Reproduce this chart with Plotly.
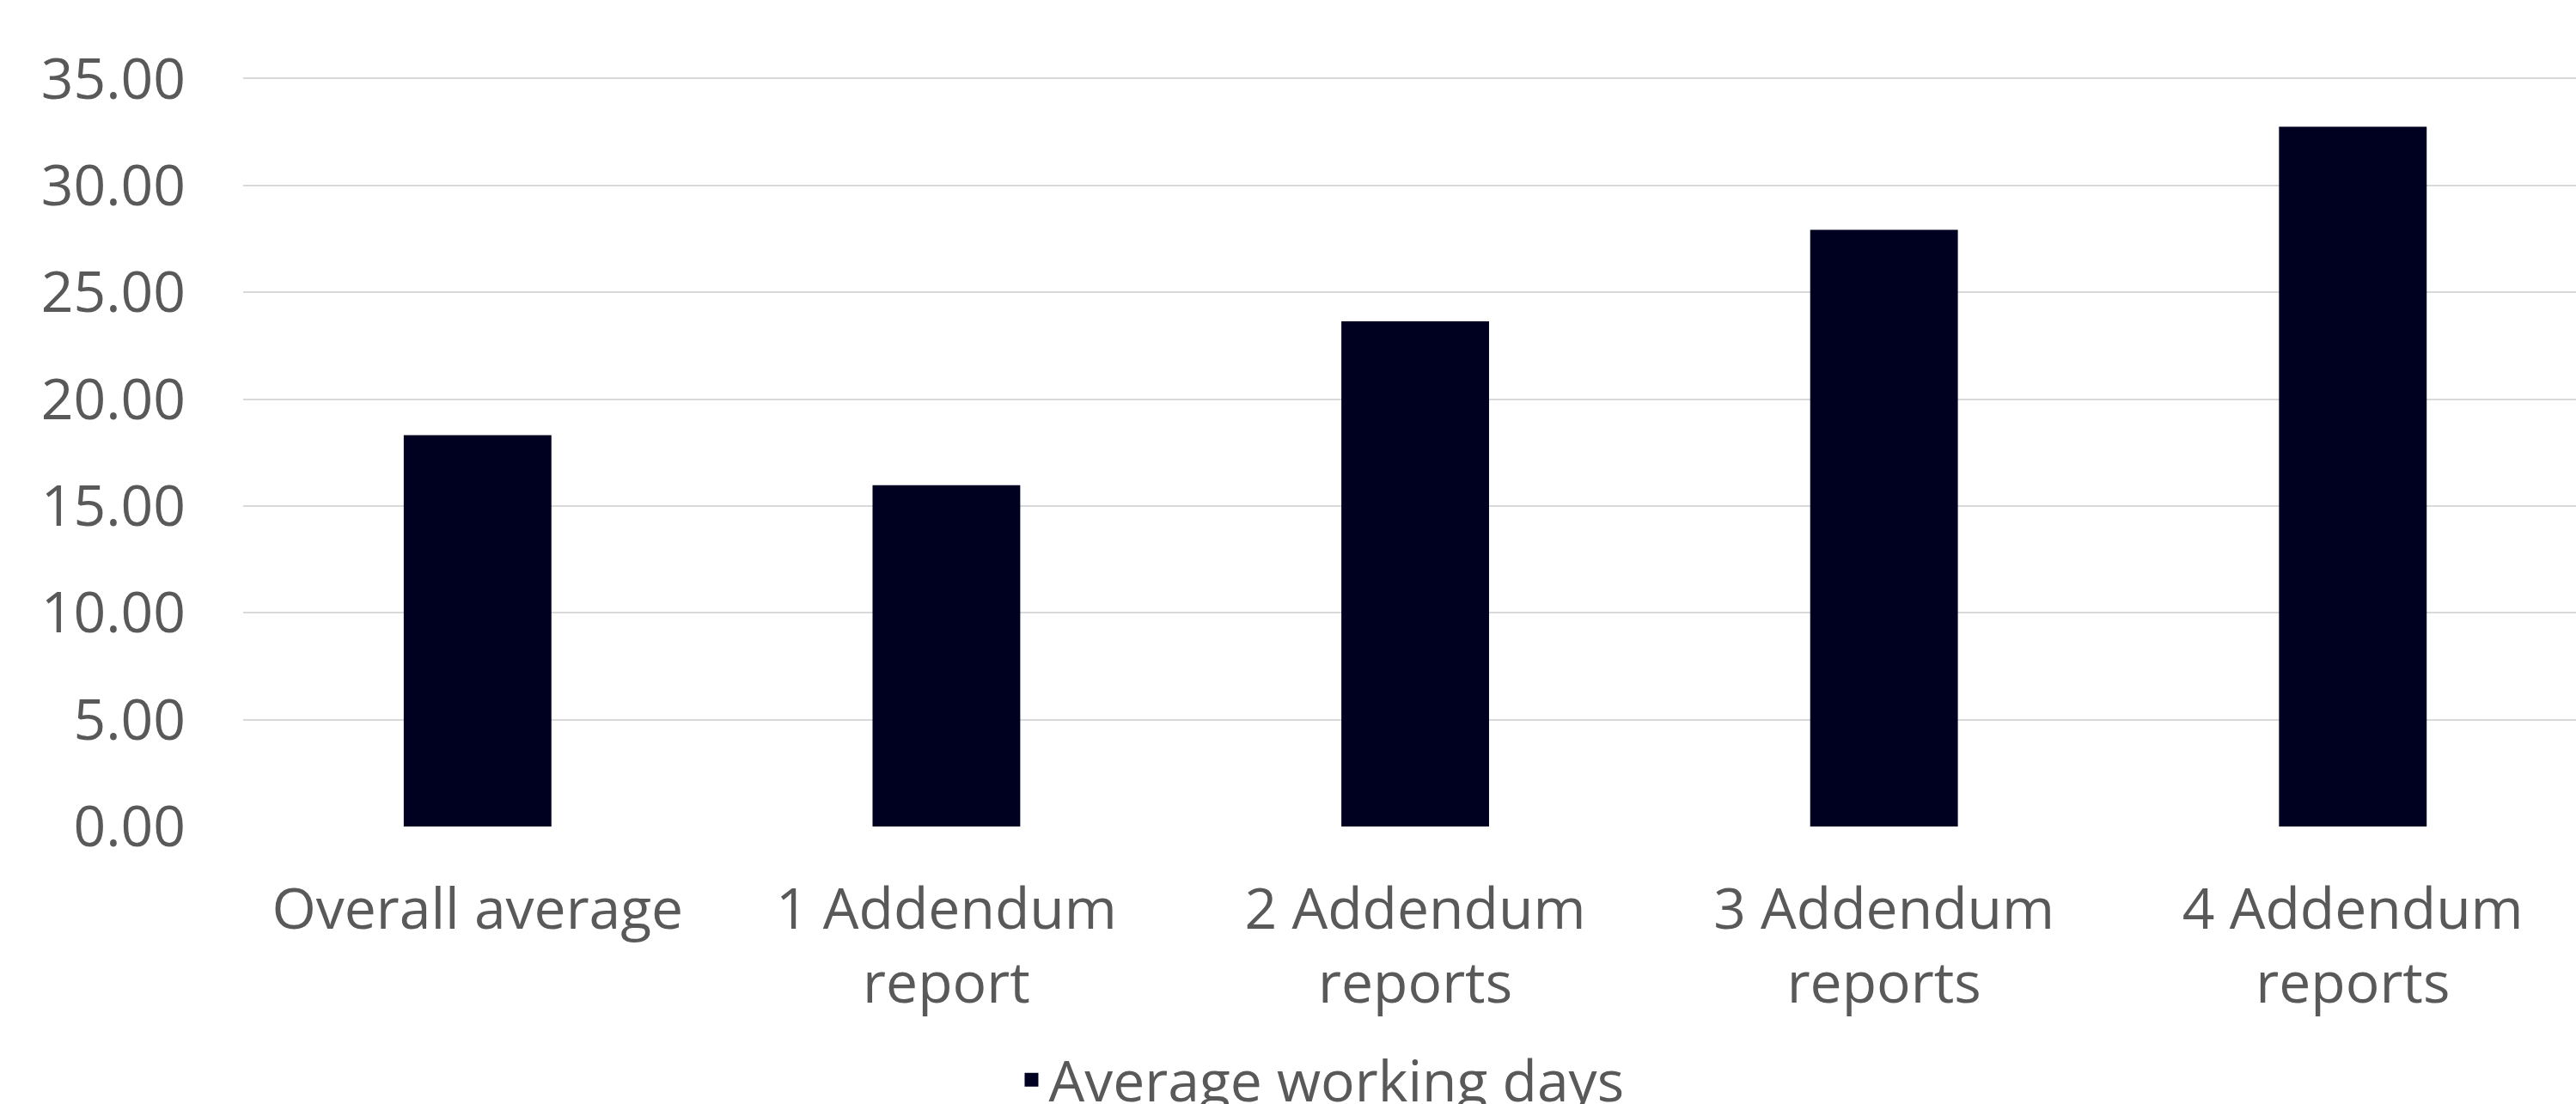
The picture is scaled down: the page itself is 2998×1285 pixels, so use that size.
import plotly.graph_objects as go

categories = ["Overall average", "1 Addendum<br>report", "2 Addendum<br>reports",
              "3 Addendum<br>reports", "4 Addendum<br>reports"]
avg_working_days = [18.31, 15.97, 23.64, 27.92, 32.75]
series_name = "Average working days"
y_ticks = [0, 5, 10, 15, 20, 25, 30, 35]

W, H = 2998, 1285
FONT = "Open Sans"
TXT = "#595959"
BAR = "#000020"
FS = 66

fig = go.Figure()
fig.add_trace(go.Bar(
    x=list(range(len(categories))),
    y=avg_working_days,
    name=series_name,
    marker=dict(color=BAR, line=dict(width=0)),
    width=0.315,
    showlegend=False,
))
# legend entry with a larger square swatch
fig.add_trace(go.Scatter(
    x=[None], y=[None], mode="markers", name=series_name,
    marker=dict(symbol="square", size=38, color=BAR, line=dict(width=0)),
    showlegend=True, hoverinfo="skip",
))

fig.update_layout(
    width=W, height=H,
    margin=dict(l=283, r=0, t=89, b=323, pad=0),
    paper_bgcolor="white", plot_bgcolor="white",
    font=dict(family=FONT, size=FS, color=TXT),
    showlegend=True,
    legend=dict(
        orientation="h",
        xref="container", yref="container",
        x=0.513, xanchor="center",
        y=0.022, yanchor="middle",
        font=dict(family=FONT, size=FS, color=TXT),
        bgcolor="rgba(0,0,0,0)",
        itemsizing="trace",
    ),
    xaxis=dict(
        range=[-0.5, 4.476],
        tickmode="array",
        tickvals=list(range(len(categories))),
        ticktext=categories,
        showgrid=False, zeroline=False, showline=False,
        ticks="", ticklabelstandoff=52,
        tickfont=dict(family=FONT, size=FS, color=TXT),
    ),
    yaxis=dict(
        range=[0, 35.1],
        tickmode="array",
        tickvals=y_ticks,
        tickformat=".2f",
        showgrid=True, gridcolor="#D9D9D9", gridwidth=2,
        zeroline=False, showline=False,
        ticks="", ticklabelstandoff=66,
        tickfont=dict(family=FONT, size=FS, color=TXT),
    ),
)

fig.write_html("out.html")
